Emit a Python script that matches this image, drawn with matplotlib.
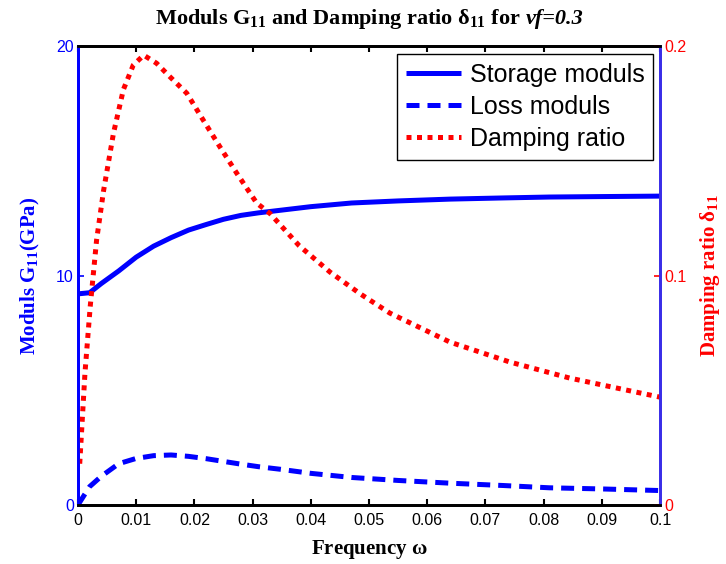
import numpy as np
import matplotlib
matplotlib.use('Agg')
import matplotlib.pyplot as plt

plt.rcParams['mathtext.fontset'] = 'custom'
plt.rcParams['mathtext.rm'] = 'Liberation Serif:bold'
plt.rcParams['mathtext.it'] = 'Liberation Serif:italic:bold'
plt.rcParams['mathtext.bf'] = 'Liberation Serif:bold'

# frequency grid for the moduls curves
freq = [0, 0.002, 0.004, 0.007, 0.010, 0.013, 0.016, 0.019, 0.022, 0.025, 0.028,
        0.031, 0.035, 0.04, 0.047, 0.055, 0.064, 0.073, 0.081, 0.09, 0.1]
storage = [9.2, 9.25, 9.65, 10.2, 10.8, 11.28, 11.65, 11.98, 12.22, 12.45, 12.62,
           12.73, 12.85, 13.0, 13.16, 13.25, 13.33, 13.38, 13.42, 13.44, 13.46]
loss = [0.0, 0.8, 1.25, 1.8, 2.03, 2.15, 2.18, 2.12, 2.02, 1.9, 1.78,
        1.67, 1.55, 1.38, 1.2, 1.07, 0.95, 0.85, 0.75, 0.7, 0.63]

# damping ratio delta_11
freqDamp = [0.0003, 0.0012, 0.0021, 0.0032, 0.0044, 0.0061, 0.0078, 0.0095, 0.0113,
            0.0135, 0.0158, 0.0187, 0.0215, 0.0244, 0.0273, 0.0307, 0.033, 0.038,
            0.0433, 0.0485, 0.0536, 0.0639, 0.0742, 0.0845, 0.0925, 0.1]
damping = [0.018, 0.0575, 0.0864, 0.1155, 0.137, 0.162, 0.181, 0.1917, 0.196,
           0.1925, 0.1866, 0.1794, 0.1678, 0.156, 0.1445, 0.1316, 0.127, 0.113,
           0.1015, 0.092, 0.0836, 0.071, 0.0623, 0.0553, 0.051, 0.047]

xticks = [0, 0.01, 0.02, 0.03, 0.04, 0.05, 0.06, 0.07, 0.08, 0.09, 0.1]
xtickLabels = ['0', '0.01', '0.02', '0.03', '0.04', '0.05', '0.06', '0.07', '0.08', '0.09', '0.1']

sans = 'Liberation Sans'
serif = 'Liberation Serif'
lw = 3.6
tickSize = 11.5

fig = plt.figure(figsize=(7.26, 5.64), dpi=100)
ax = fig.add_axes([0.1074, 0.1046, 0.8017, 0.8138])
ax2 = ax.twinx()

l1, = ax.plot(freq, storage, color='#0000ff', linewidth=lw, solid_capstyle='butt', label='Storage moduls')
l2, = ax.plot(freq, loss, color='#0000ff', linewidth=lw, linestyle=(0, (2.6, 1.6)),
              dash_capstyle='butt', label='Loss moduls')
l3, = ax2.plot(freqDamp, damping, color='#ff0000', linewidth=lw, linestyle=(0, (1, 1.1)),
               dash_capstyle='butt', label='Damping ratio')

ax.set_xlim(0, 0.1)
ax.set_ylim(0, 20)
ax2.set_ylim(0, 0.2)
ax.set_xticks(xticks)
ax.set_xticklabels(xtickLabels, fontfamily=sans, fontsize=tickSize)
ax.set_yticks([0, 10, 20])
ax.set_yticklabels(['0', '10', '20'], fontfamily=sans, fontsize=tickSize, color='#0000ff')
ax2.set_yticks([0, 0.1, 0.2])
ax2.set_yticklabels(['0', '0.1', '0.2'], fontfamily=sans, fontsize=tickSize, color='#ff0000')

ax.tick_params(axis='x', direction='in', length=4, width=1.5, top=True, color='black', pad=6)
ax.tick_params(axis='y', direction='in', length=4, width=1.2, color='#0000ff', pad=3)
ax2.tick_params(axis='y', direction='in', length=4, width=1.2, color='#ff0000', pad=3)

for a in (ax, ax2):
  for s in a.spines.values():
    s.set_linewidth(2)
  a.spines['top'].set_color('black')
  a.spines['bottom'].set_color('black')
  a.spines['left'].set_color('#0000ff')
  a.spines['right'].set_color('#3a2ee8')

# title: upright part with subscripts, then the italic volume fraction right after it
titleMain = fig.text(0.213, 0.966, r'Moduls G$_{11}$ and Damping ratio $\mathrm{\delta}_{11}$ for',
                     ha='left', va='center', fontfamily=serif, fontweight='bold', fontsize=16)
fig.canvas.draw()
bb = titleMain.get_window_extent().transformed(fig.transFigure.inverted())
fig.text(bb.x1 + 0.007, 0.966, 'vf=0.3', ha='left', va='center', fontfamily=serif,
         fontweight='bold', fontstyle='italic', fontsize=16)

ax.set_xlabel(r'Frequency $\mathrm{\omega}$', fontfamily=serif, fontweight='bold', fontsize=15, labelpad=7)
ax.set_ylabel(r'Moduls G$_{11}$(GPa)', fontfamily=serif, fontweight='bold', fontsize=15,
              color='#0000ff', labelpad=10)
ax2.set_ylabel(r'Damping ratio $\mathrm{\delta}_{11}$', fontfamily=serif, fontweight='bold', fontsize=15,
               color='#ff0000', labelpad=8)

leg = ax2.legend([l1, l2, l3], ['Storage moduls', 'Loss moduls', 'Damping ratio'],
                 loc='upper right', bbox_to_anchor=(0.988, 0.982), prop={'family': sans, 'size': 18},
                 fancybox=False, framealpha=1, edgecolor='black', handlelength=2.2,
                 handletextpad=0.35, borderpad=0.35, labelspacing=0.32, borderaxespad=0)
leg.get_frame().set_linewidth(1.0)

plt.savefig('out.png', dpi=100)
plt.close('all')
